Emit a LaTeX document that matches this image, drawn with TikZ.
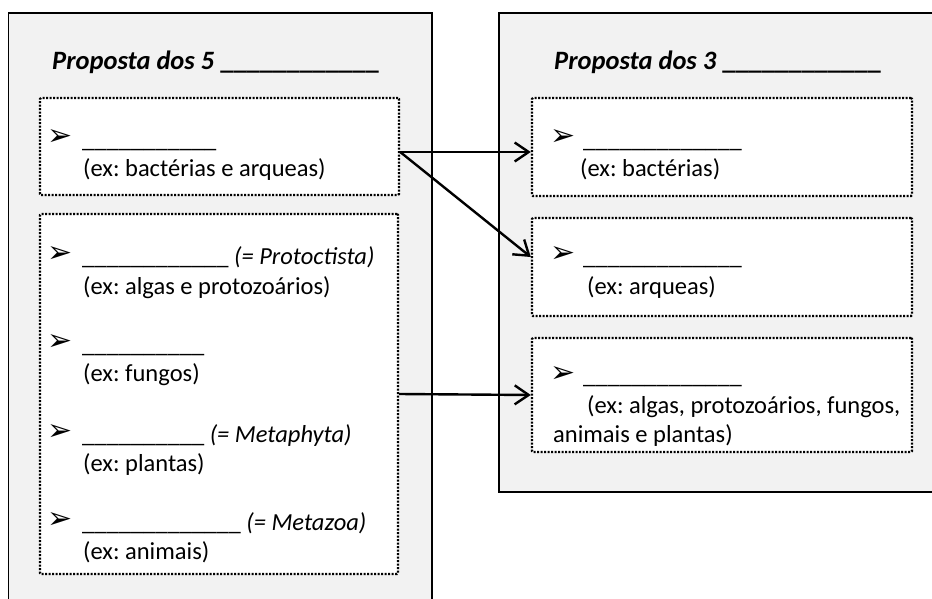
\documentclass[tikz,border=0pt]{standalone}
\usepackage{fontspec}
\setmainfont{Carlito}
\newfontfamily\dejavu{DejaVu Sans}
\usetikzlibrary{arrows.meta}
\tikzset{>=stealth}
\definecolor{panelgray}{RGB}{242,242,242}
\frenchspacing
\tikzset{
  panel/.style={draw, fill=panelgray, line width=1.4pt},
  slot/.style={draw, fill=white, line width=2.4pt, dash pattern=on 2pt off 1.5pt, rounded corners=1pt},
  txt/.style={anchor=base west, inner sep=0pt, font=\fontsize{24.5}{29.5}\selectfont},
  ttl/.style={anchor=base west, inner sep=0pt, font=\fontsize{26.5}{32}\selectfont\bfseries\itshape},
  bul/.style={anchor=center, inner sep=0pt, font=\fontsize{30}{32}\selectfont\dejavu},
  link/.style={-{Straight Barb[length=14pt,width=19pt,line width=2.4pt]}, line width=2.4pt}
}

\begin{document}
\begin{tikzpicture}[x=1pt,y=-1pt]
\clip (0,0) rectangle (932,599);
% paineis
\draw[panel] (8.5,13) rectangle (432,620);
\draw[panel] (499,13) rectangle (950,492);
\node[ttl] (t5) at (52,69.5) {Proposta dos 5 {\upshape\_\_\_\_\_\_\_\_\_\_\_\_}};
\node[ttl] (t3) at (554,69.5) {Proposta dos 3 {\upshape\_\_\_\_\_\_\_\_\_\_\_\_}};
% caixas pontilhadas
\node[slot, minimum width=359pt, minimum height=97pt] (lbac) at (219.5,146.5) {};
\node[slot, minimum width=358pt, minimum height=360pt] (lrest) at (219,394) {};
\node[slot, minimum width=380pt, minimum height=98pt] (rbac) at (722,147) {};
\node[slot, minimum width=380pt, minimum height=98pt] (rarq) at (722,267) {};
\node[slot, minimum width=380pt, minimum height=114pt] (rrest) at (722,395) {};
% proposta dos 5
\node[bul] (b1) at (60,138) {➢};
\node[txt] (n1) at (82,147.5) {\_\_\_\_\_\_\_\_\_\_\_};
\node[txt] (e1) at (83,177) {(ex: bactérias e arqueas)};
\node[bul] (b2) at (60,255) {➢};
\node[txt] (n2) at (82,264.5) {\_\_\_\_\_\_\_\_\_\_\_\_ \textit{(= Protoctista)}};
\node[txt] (e2) at (83,294) {(ex: algas e protozoários)};
\node[bul] (b3) at (60,342.5) {➢};
\node[txt] (n3) at (82,352) {\_\_\_\_\_\_\_\_\_\_};
\node[txt] (e3) at (83,381.5) {(ex: fungos)};
\node[bul] (b4) at (60,432.5) {➢};
\node[txt] (n4) at (82,442) {\_\_\_\_\_\_\_\_\_\_ \textit{(= Metaphyta)}};
\node[txt] (e4) at (83,471.5) {(ex: plantas)};
\node[bul] (b5) at (60,520.5) {➢};
\node[txt] (n5) at (82,530) {\_\_\_\_\_\_\_\_\_\_\_\_\_ \textit{(= Metazoa)}};
\node[txt] (e5) at (83,559.5) {(ex: animais)};
% proposta dos 3
\node[bul] (c1) at (563,138) {➢};
\node[txt] (m1) at (583,147.5) {\_\_\_\_\_\_\_\_\_\_\_\_\_};
\node[txt] (f1) at (580,177) {(ex: bactérias)};
\node[bul] (c2) at (563,255) {➢};
\node[txt] (m2) at (583,264.5) {\_\_\_\_\_\_\_\_\_\_\_\_\_};
\node[txt] (f2) at (587,294) {(ex: arqueas)};
\node[bul] (c3) at (563,374) {➢};
\node[txt] (m3) at (583,383.5) {\_\_\_\_\_\_\_\_\_\_\_\_\_};
\node[txt] (f3) at (587,413) {(ex: algas, protozoários, fungos,};
\node[txt] (f4) at (553,442.5) {animais e plantas)};
% setas
\coordinate (fork) at ([yshift=-5.5pt]lbac.east);
\draw[link] (fork) -- ([yshift=-5pt]rbac.west);
\draw[link] (fork) -- ([yshift=10pt]rarq.west);
\draw[link] (lrest.east) -- (rrest.west);
\end{tikzpicture}
\end{document}
